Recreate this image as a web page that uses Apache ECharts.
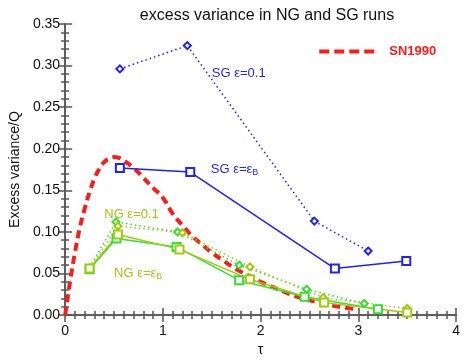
<!DOCTYPE html>
<html>
<head>
<meta charset="utf-8">
<script src="https://cdn.jsdelivr.net/npm/echarts@6/dist/echarts.min.js"></script>
<style>
  html, body { margin: 0; padding: 0; background: #fff; }
  #chart { width: 463px; height: 362px; }
</style>
</head>
<body>
<div id="chart"></div>
<script>
// SN1990 reference curve (tau, excess variance / Q)
const sn1990 = [
  [0, 0], [0.02, 0.016], [0.05, 0.040], [0.1, 0.075], [0.15, 0.105], [0.2, 0.128],
  [0.25, 0.148], [0.3, 0.164], [0.35, 0.176], [0.4, 0.184], [0.45, 0.188], [0.5, 0.190],
  [0.55, 0.189], [0.6, 0.186], [0.7, 0.177], [0.8, 0.165], [0.9, 0.153], [1.0, 0.141],
  [1.1, 0.122], [1.2, 0.108], [1.3, 0.095], [1.4, 0.085], [1.5, 0.075], [1.6, 0.067],
  [1.7, 0.059], [1.8, 0.052], [1.9, 0.046], [2.0, 0.040], [2.2, 0.030], [2.4, 0.021],
  [2.6, 0.015], [2.8, 0.010], [3.0, 0.007]
];

// SG runs
const sgEps01 = [[0.56, 0.296], [1.25, 0.324], [2.55, 0.113], [3.10, 0.077]];
const sgEpsB = [[0.56, 0.177], [1.28, 0.172], [2.76, 0.056], [3.49, 0.065]];

// NG runs (two variants each, green and yellow-green)
const ngEps01Green = [[0.25, 0.057], [0.52, 0.112], [1.15, 0.100], [1.78, 0.060], [2.47, 0.031], [3.06, 0.014]];
const ngEps01Yellow = [[0.25, 0.056], [0.54, 0.107], [1.20, 0.099], [1.89, 0.058], [2.64, 0.021], [3.50, 0.008]];
const ngEpsBGreen = [[0.25, 0.055], [0.525, 0.092], [1.14, 0.082], [1.78, 0.042], [2.45, 0.022], [3.20, 0.007]];
const ngEpsBYellow = [[0.25, 0.056], [0.54, 0.097], [1.17, 0.079], [1.89, 0.043], [2.65, 0.015], [3.50, 0.003]];

const xTicks = [0, 1, 2, 3, 4];
const yTicks = [0, 0.05, 0.10, 0.15, 0.20, 0.25, 0.30, 0.35];
const xMinorStep = 0.1;
const yMinorStep = 0.01;

const BLUE = '#1f1fff';
const GREEN = '#33e033';
const YGREEN = '#9fcb0a';
const RED = '#ff1a1a';
const AXIS = '#555';
const FONT = '"Liberation Sans", Arial, sans-serif';

const chart = echarts.init(document.getElementById('chart'));

const xRange = { type: 'value', min: xTicks[0], max: xTicks[xTicks.length - 1] };
const yRange = { type: 'value', min: yTicks[0], max: yTicks[yTicks.length - 1] };

// one frame side: major ticks (len 7) or minor ticks (len 4), all pointing inward
function side(range, position, interval, len, showLine, extra) {
  return Object.assign({}, range, {
    position, interval,
    axisLine: { show: showLine, lineStyle: { color: AXIS, width: 1.5 } },
    axisTick: { show: true, inside: true, length: len, lineStyle: { color: AXIS, width: 1.5 } },
    splitLine: { show: false },
    axisLabel: { show: false }
  }, extra || {});
}

const labelStyle = { fontFamily: FONT, fontSize: 14, color: '#111' };

function lineSeries(name, data, color, dotted, symbol, size) {
  return {
    name, type: 'line', data,
    symbol, symbolSize: size, showSymbol: true,
    lineStyle: { color, width: 1.5, type: dotted ? [1.5, 3] : 'solid' },
    itemStyle: { color, borderWidth: 1.5 },
    z: 3
  };
}

chart.setOption({
  animation: false,
  backgroundColor: '#fff',
  title: {
    text: 'excess variance in NG and SG runs',
    left: 262, textAlign: 'center', top: 3,
    textStyle: { fontFamily: FONT, fontSize: 16, fontWeight: 'normal', color: '#111' }
  },
  grid: { left: 63, right: 1, top: 24, bottom: 38 },
  xAxis: [
    side(xRange, 'bottom', 1, 7, true, {
      axisLabel: Object.assign({ show: true, margin: 9 }, labelStyle),
      name: 'τ', nameLocation: 'middle', nameGap: 25, nameTextStyle: labelStyle
    }),
    side(xRange, 'top', 1, 7, true),
    side(xRange, 'bottom', xMinorStep, 4, false),
    side(xRange, 'top', xMinorStep, 4, false)
  ],
  yAxis: [
    side(yRange, 'left', 0.05, 7, true, {
      axisLabel: Object.assign({ show: true, margin: 5, formatter: v => v.toFixed(2) }, labelStyle),
      name: 'Excess variance/Q', nameLocation: 'middle', nameGap: 34, nameTextStyle: labelStyle
    }),
    side(yRange, 'right', 0.05, 7, true),
    side(yRange, 'left', yMinorStep, 4, false),
    side(yRange, 'right', yMinorStep, 4, false)
  ],
  series: [
    {
      name: 'SN1990', type: 'line', data: sn1990, smooth: true, showSymbol: false,
      lineStyle: { color: RED, width: 4, type: [8, 5] }, z: 2
    },
    lineSeries('SG eps=0.1', sgEps01, BLUE, true, 'emptyDiamond', 7),
    lineSeries('SG eps=epsB', sgEpsB, BLUE, false, 'emptyRect', 8),
    lineSeries('NG eps=0.1 a', ngEps01Green, GREEN, true, 'emptyDiamond', 7),
    lineSeries('NG eps=0.1 b', ngEps01Yellow, YGREEN, true, 'emptyDiamond', 7),
    lineSeries('NG eps=epsB a', ngEpsBGreen, GREEN, false, 'emptyRect', 8),
    lineSeries('NG eps=epsB b', ngEpsBYellow, YGREEN, false, 'emptyRect', 8)
  ]
});

// annotations anchored in data coordinates
const notes = [
  { at: [1.50, 0.291], color: BLUE, text: 'SG ε=0.1' },
  { at: [1.49, 0.175], color: BLUE, text: 'SG ε=ε{s|B}' },
  { at: [0.40, 0.121], color: YGREEN, text: 'NG ε=0.1' },
  { at: [0.50, 0.050], color: YGREEN, text: 'NG ε=ε{s|B}' }
];
const graphic = notes.map(n => {
  const p = chart.convertToPixel({ gridIndex: 0 }, n.at);
  return {
    type: 'text', x: p[0], y: p[1],
    style: {
      text: n.text, fill: n.color, font: '13px ' + FONT, verticalAlign: 'middle',
      rich: { s: { fontSize: 9, fill: n.color, verticalAlign: 'bottom', padding: [6, 0, 0, 0] } }
    }
  };
});
// SN1990 legend
const lg = chart.convertToPixel({ gridIndex: 0 }, [2.6, 0.317]);
graphic.push({
  type: 'line', shape: { x1: lg[0], y1: lg[1], x2: lg[0] + 55, y2: lg[1] },
  style: { stroke: RED, lineWidth: 4, lineDash: [10, 5] }
});
graphic.push({
  type: 'text', x: lg[0] + 70, y: lg[1],
  style: { text: 'SN1990', fill: RED, font: 'bold 13px ' + FONT, verticalAlign: 'middle' }
});
chart.setOption({ graphic });
</script>
</body>
</html>
